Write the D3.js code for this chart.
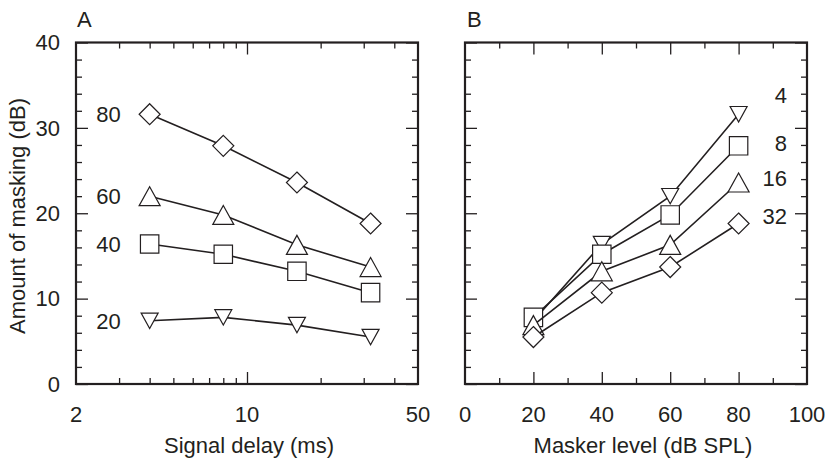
<!DOCTYPE html>
<html>
<head>
<meta charset="utf-8">
<script src="https://cdn.jsdelivr.net/npm/d3@7"></script>
<style>
  body { margin: 0; background: #fff; }
  svg text { font-family: "Liberation Sans", Arial, sans-serif; fill: #231f20; }
</style>
</head>
<body>
<div id="chart"></div>
<script>
// data: amount of masking (dB)
var delays = [4, 8, 16, 32];            // signal delay (ms)
var maskerLevels = [20, 40, 60, 80];    // masker level (dB SPL)
var maskAt20 = [7.4, 7.8, 6.9, 5.5];
var maskAt40 = [16.4, 15.2, 13.2, 10.7];
var maskAt60 = [22.0, 19.8, 16.3, 13.7];
var maskAt80 = [31.6, 27.9, 23.6, 18.8];
var maskRows = [maskAt20, maskAt40, maskAt60, maskAt80];

var yTicks = [0, 10, 20, 30, 40];
var xTicksA = [2, 10, 50];
var xTicksB = [0, 20, 40, 60, 80, 100];

var ink = "#231f20";
var w = 831, h = 460;
var plotTop = 42.5, plotBottom = 384;
var fs = 22;

var svg = d3.select("#chart").append("svg")
  .attr("width", w).attr("height", h);

var y = d3.scaleLinear().domain([0, 40]).range([plotBottom, plotTop]);
var xA = d3.scaleLog().domain([2, 50]).range([76, 418]);
var xB = d3.scaleLinear().domain([0, 100]).range([465, 807]);

// marker shapes, index 0..3 = down triangle, square, up triangle, diamond
function shape(k) {
  if (k == 0) return "M-8.5,-7.7L8.5,-7.7L0,7.7Z";
  if (k == 1) return "M-9.2,-9.2L9.2,-9.2L9.2,9.2L-9.2,9.2Z";
  if (k == 2) return "M0,-9.5L10.5,9.5L-10.5,9.5Z";
  return "M0,-10.5L10.5,0L0,10.5L-10.5,0Z";
}

function frame(x) {
  var g = svg.append("g");
  var r = x.range();
  var minorY = d3.range(0, 41, 2).filter(function(d) { return d % 10 != 0; });
  // y ticks, both sides, pointing inward
  g.append("g").attr("transform", "translate(" + r[0] + ",0)")
    .call(d3.axisLeft(y).tickValues(minorY).tickSize(-6).tickFormat(""));
  g.append("g").attr("transform", "translate(" + r[0] + ",0)")
    .call(d3.axisLeft(y).tickValues(yTicks).tickSize(-12).tickFormat(""));
  g.append("g").attr("transform", "translate(" + r[1] + ",0)")
    .call(d3.axisRight(y).tickValues(minorY).tickSize(-6).tickFormat(""));
  g.append("g").attr("transform", "translate(" + r[1] + ",0)")
    .call(d3.axisRight(y).tickValues(yTicks).tickSize(-12).tickFormat(""));
  g.selectAll(".domain").remove();
  g.selectAll("line").attr("stroke", ink).attr("stroke-width", 1.3);
  return g;
}

function xTicks(x, major, minor) {
  var g = svg.append("g");
  [[plotBottom, d3.axisBottom], [plotTop, d3.axisTop]].forEach(function(p) {
    g.append("g").attr("transform", "translate(0," + p[0] + ")")
      .call(p[1](x).tickValues(minor).tickSize(-6).tickFormat(""));
    g.append("g").attr("transform", "translate(0," + p[0] + ")")
      .call(p[1](x).tickValues(major).tickSize(-12).tickFormat(""));
  });
  g.selectAll(".domain").remove();
  g.selectAll("line").attr("stroke", ink).attr("stroke-width", 1.3);
}

function border(x) {
  var r = x.range();
  svg.append("rect")
    .attr("x", r[0]).attr("y", plotTop)
    .attr("width", r[1] - r[0]).attr("height", plotBottom - plotTop)
    .attr("fill", "none").attr("stroke", ink).attr("stroke-width", 2.2);
}

// ---------- panel A ----------
frame(xA);
xTicks(xA, [10], [3, 4, 5, 6, 7, 8, 9, 20, 30, 40]);

var lineA = d3.line().x(function(d, i) { return xA(delays[i]); }).y(function(d) { return y(d); });
maskRows.forEach(function(row, k) {
  svg.append("path").attr("d", lineA(row))
    .attr("fill", "none").attr("stroke", ink).attr("stroke-width", 1.6);
  svg.selectAll(null).data(row).enter().append("path")
    .attr("d", shape(k))
    .attr("transform", function(d, i) { return "translate(" + xA(delays[i]) + "," + y(d) + ")"; })
    .attr("fill", "#fff").attr("stroke", ink).attr("stroke-width", 1.2);
  svg.append("text")
    .attr("x", xA(delays[0]) - 29).attr("y", y(row[0]))
    .attr("dy", "0.35em").attr("text-anchor", "end")
    .attr("font-size", fs).text(maskerLevels[k]);
});
border(xA);

// y tick labels
svg.selectAll(null).data(yTicks).enter().append("text")
  .attr("x", 60).attr("y", function(d) { return y(d); })
  .attr("dy", "0.35em").attr("text-anchor", "end")
  .attr("font-size", fs).text(function(d) { return d; });

svg.selectAll(null).data(xTicksA).enter().append("text")
  .attr("x", function(d) { return xA(d); }).attr("y", 422)
  .attr("text-anchor", "middle").attr("font-size", fs)
  .text(function(d) { return d; });

// ---------- panel B ----------
frame(xB);
xTicks(xB, [20, 40, 60, 80], [10, 30, 50, 70, 90]);

var labelB = [33.8, 28.2, 24.1, 19.6];
var lineB = d3.line().x(function(d, i) { return xB(maskerLevels[i]); }).y(function(d) { return y(d); });
delays.forEach(function(dl, k) {
  var col = maskRows.map(function(row) { return row[k]; });
  svg.append("path").attr("d", lineB(col))
    .attr("fill", "none").attr("stroke", ink).attr("stroke-width", 1.6);
  svg.selectAll(null).data(col).enter().append("path")
    .attr("d", shape(k))
    .attr("transform", function(d, i) { return "translate(" + xB(maskerLevels[i]) + "," + y(d) + ")"; })
    .attr("fill", "#fff").attr("stroke", ink).attr("stroke-width", 1.2);
  svg.append("text")
    .attr("x", 787).attr("y", y(labelB[k]))
    .attr("dy", "0.35em").attr("text-anchor", "end")
    .attr("font-size", fs).text(dl);
});
border(xB);

svg.selectAll(null).data(xTicksB).enter().append("text")
  .attr("x", function(d) { return xB(d); }).attr("y", 422)
  .attr("text-anchor", "middle").attr("font-size", fs)
  .text(function(d) { return d; });

// ---------- titles ----------
svg.append("text").attr("x", 77).attr("y", 27).attr("font-size", fs).text("A");
svg.append("text").attr("x", 467).attr("y", 27).attr("font-size", fs).text("B");

svg.append("text").attr("x", 249).attr("y", 453)
  .attr("text-anchor", "middle").attr("font-size", fs).text("Signal delay (ms)");
svg.append("text").attr("x", 643).attr("y", 453)
  .attr("text-anchor", "middle").attr("font-size", fs).text("Masker level (dB SPL)");
svg.append("text")
  .attr("transform", "translate(25,216) rotate(-90)")
  .attr("text-anchor", "middle").attr("font-size", fs).text("Amount of masking (dB)");
</script>
</body>
</html>
